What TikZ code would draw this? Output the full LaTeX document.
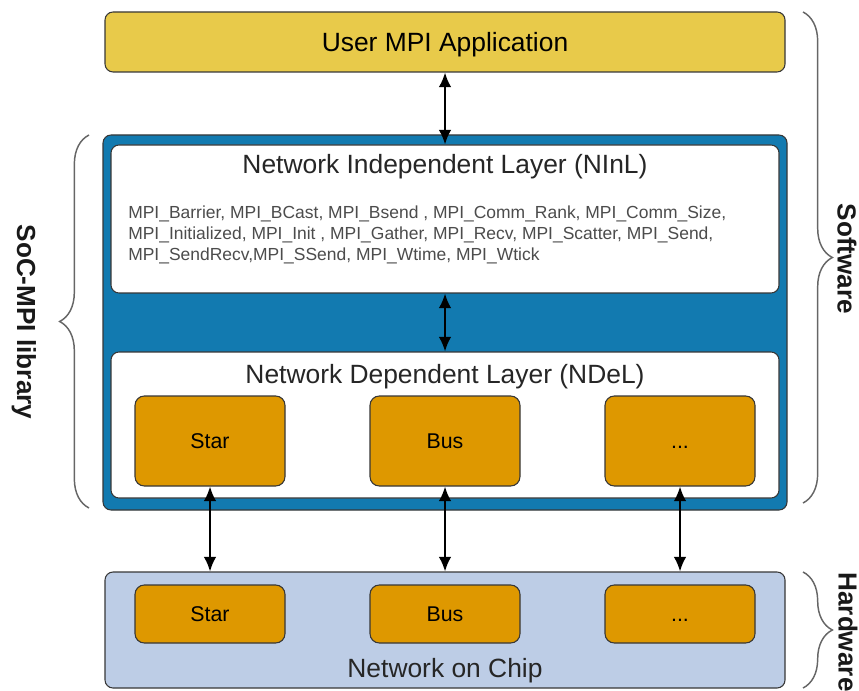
\documentclass[tikz,border=0pt]{standalone}
\usepackage{fontspec}
\setmainfont{Liberation Sans}
\usetikzlibrary{arrows.meta,positioning,decorations.pathreplacing}
\definecolor{appyellow}{RGB}{232,202,74}
\definecolor{libblue}{RGB}{18,122,176}
\definecolor{topoorange}{RGB}{222,152,0}
\definecolor{nocblue}{RGB}{189,205,230}
\definecolor{edgegrey}{RGB}{55,55,55}
\tikzset{
	>={Latex[length=11pt,width=9.5pt]},
}

\begin{document}
\begin{tikzpicture}[x=0.75pt,y=-0.75pt,
layer/.style = {draw=edgegrey, line width=0.8pt, rounded corners=6pt, inner sep=0},
topo/.style = {layer, fill=topoorange, rounded corners=7pt, minimum width=112.5pt, text height=11.5pt, text depth=0pt, font=\fontsize{16}{19}\selectfont},
heading/.style = {anchor=base, font=\fontsize{19.8}{24}\selectfont, text=black!85},
link/.style = {<->, line width=1.5pt},
bracket/.style = {decorate, decoration={brace, amplitude=22pt}, draw=black!60, line width=1.1pt},
tag/.style = {rotate=-90, font=\fontsize{19.6}{24}\selectfont\bfseries, text=black!90}]
\useasboundingbox (0,0) rectangle (859,691);
% software side
\node[layer,fill=appyellow,minimum width=510pt,minimum height=45pt,text height=14.2pt,text depth=0pt,font=\fontsize{19.8}{24}\selectfont] (userapp) at (445,42) {User MPI Application};
\node[layer,fill=libblue,minimum width=513pt,minimum height=281.25pt] (mpilib) at (445,322.5) {};
\node[layer,fill=white,minimum width=501pt,minimum height=111pt] (ninl) at (445,219) {};
\node[heading] (ninltitle) at (445,173.5) {Network Independent Layer (NInL)};
\node[anchor=north west, inner sep=0, align=left, text=black!70, font=\fontsize{13.1}{15.75}\selectfont] (calls) at (128,205.5)
	{MPI\_Barrier, MPI\_BCast, MPI\_Bsend , MPI\_Comm\_Rank, MPI\_Comm\_Size,\\
	MPI\_Initialized, MPI\_Init , MPI\_Gather, MPI\_Recv, MPI\_Scatter, MPI\_Send,\\
	MPI\_SendRecv,MPI\_SSend, MPI\_Wtime, MPI\_Wtick};
\node[layer,fill=white,minimum width=501pt,minimum height=109.5pt] (ndel) at (445,425) {};
\node[heading] (ndeltitle) at (445,383.5) {Network Dependent Layer (NDeL)};
\node[topo,minimum height=67.5pt] (ndelstar) at (210,441) {Star};
\node[topo,minimum height=67.5pt] (ndelbus) at (445,441) {Bus};
\node[topo,minimum height=67.5pt] (ndeldots) at (680,441) {...};
% hardware side
\node[layer,fill=nocblue,minimum width=510pt,minimum height=87pt] (noc) at (445,630) {};
\node[topo,minimum height=43.5pt] (nocstar) at (210,614) {Star};
\node[topo,minimum height=43.5pt] (nocbus) at (445,614) {Bus};
\node[topo,minimum height=43.5pt] (nocdots) at (680,614) {...};
\node[heading] (noctitle) at (445,677.5) {Network on Chip};
% links
\draw[link] (userapp.south) -- (ninl.north);
\draw[link] (ninl.south) -- (ndel.north);
\draw[link] (ndelstar.south) -- (ndelstar.south |- noc.north);
\draw[link] (ndelbus.south) -- (ndelbus.south |- noc.north);
\draw[link] (ndeldots.south) -- (ndeldots.south |- noc.north);
% braces
\coordinate (libtop) at (89,135);
\coordinate (libbot) at (89,508);
\coordinate (swtop) at (803,12);
\coordinate (swbot) at (803,503);
\coordinate (hwtop) at (803,572);
\coordinate (hwbot) at (803,688);
\draw[bracket] (libbot) -- (libtop);
\draw[bracket] (swtop) -- (swbot);
\draw[bracket] (hwtop) -- (hwbot);
\node[tag] (libtag) at (24,322) {SoC-MPI library};
\node[tag] (swtag) at (847,259) {Software};
\node[tag] (hwtag) at (848,632) {Hardware};
\end{tikzpicture}
\end{document}
